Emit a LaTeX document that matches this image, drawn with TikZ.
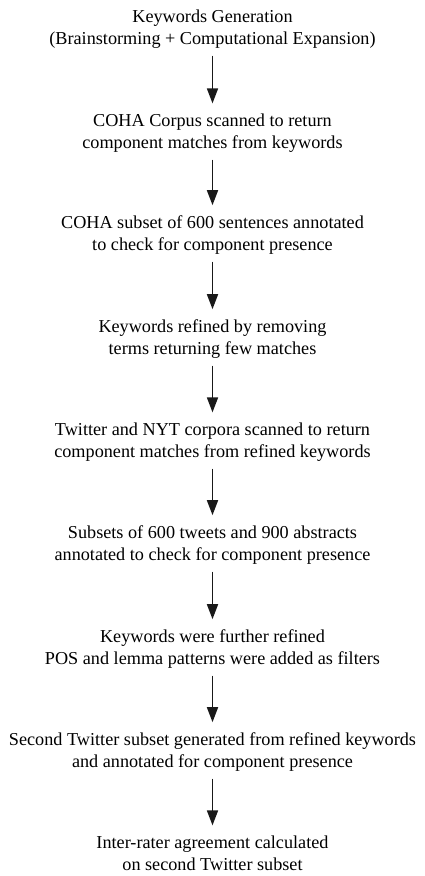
\documentclass[tikz,border=0pt]{standalone}
\usepackage{fontspec}
\setmainfont{Liberation Serif}
\usetikzlibrary{arrows.meta}
\begin{document}
\begin{tikzpicture}[x=1pt,y=1pt,
  stepbox/.style={align=center,font=\fontsize{18.2}{22.6}\selectfont,inner sep=0pt,text depth=0pt,anchor=south},
  flow/.style={line width=1.7pt,color=black!90,-{Triangle[width=11pt,length=15pt]}}]
\useasboundingbox (0,0) rectangle (425,-876);
\node[stepbox] (n1) at (212.5,-45) {Keywords Generation\\(Brainstorming + Computational Expansion)};
\node[stepbox] (n2) at (212.5,-149) {COHA Corpus scanned to return\\component matches from keywords};
\node[stepbox] (n3) at (212.5,-251) {COHA subset of 600 sentences annotated\\to check for component presence};
\node[stepbox] (n4) at (212.5,-355) {Keywords refined by removing\\terms returning few matches};
\node[stepbox] (n5) at (212.5,-458) {Twitter and NYT corpora scanned to return\\component matches from refined keywords};
\node[stepbox] (n6) at (212.5,-561) {Subsets of 600 tweets and 900 abstracts\\annotated to check for component presence};
\node[stepbox] (n7) at (212.5,-665) {Keywords were further refined\\POS and lemma patterns were added as filters};
\node[stepbox] (n8) at (212.5,-768) {Second Twitter subset generated from refined keywords\\and annotated for component presence};
\node[stepbox] (n9) at (212.5,-871) {Inter-rater agreement calculated\\on second Twitter subset};
\foreach \a/\b in {n1/n2,n2/n3,n3/n4,n4/n5,n5/n6,n6/n7,n7/n8,n8/n9}
  \draw[flow] ([yshift=-10.5pt]\a.south) -- ([yshift=10pt]\b.north);
\end{tikzpicture}
\end{document}
